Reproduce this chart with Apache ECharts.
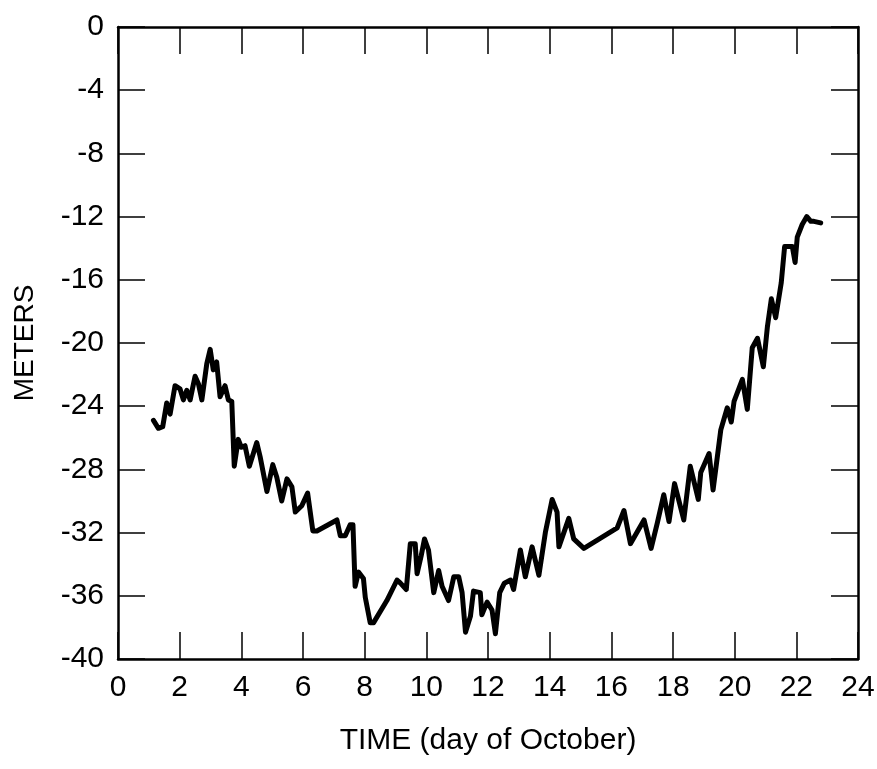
<!DOCTYPE html>
<html><head><meta charset="utf-8">
<script src="https://cdn.jsdelivr.net/npm/echarts@6/dist/echarts.min.js"></script>
<style>html,body{margin:0;padding:0;background:#fff}#c{width:877px;height:769px}</style>
</head><body><div id="c"></div>
<script>
const days = [1.15,1.31,1.45,1.58,1.69,1.85,2.01,2.12,2.23,2.34,2.5,2.61,2.72,2.88,2.99,3.09,3.2,3.31,3.47,3.58,3.69,3.77,3.9,4.0,4.12,4.26,4.5,4.61,4.83,5.02,5.15,5.31,5.48,5.64,5.75,5.96,6.15,6.32,6.45,7.1,7.21,7.37,7.53,7.62,7.69,7.8,7.96,8.02,8.18,8.29,8.72,9.05,9.16,9.35,9.48,9.64,9.7,9.83,9.94,10.07,10.24,10.4,10.51,10.72,10.89,11.05,11.16,11.27,11.43,11.53,11.75,11.8,11.97,12.13,12.24,12.38,12.53,12.73,12.83,13.05,13.21,13.43,13.65,13.86,14.08,14.24,14.3,14.62,14.78,15.11,16.19,16.41,16.62,17.06,17.29,17.49,17.7,17.87,18.05,18.35,18.56,18.82,18.9,19.17,19.3,19.55,19.76,19.89,19.98,20.25,20.41,20.57,20.74,20.93,21.06,21.19,21.33,21.51,21.62,21.87,21.96,22.03,22.19,22.34,22.47,22.57,22.79];
const meters = [-24.9,-25.4,-25.3,-23.8,-24.5,-22.7,-22.9,-23.6,-23.0,-23.6,-22.1,-22.6,-23.6,-21.3,-20.4,-21.7,-21.2,-23.4,-22.7,-23.6,-23.7,-27.8,-26.1,-26.6,-26.5,-27.8,-26.3,-27.2,-29.4,-27.7,-28.5,-30.0,-28.6,-29.1,-30.7,-30.3,-29.5,-31.9,-31.9,-31.2,-32.2,-32.2,-31.5,-31.5,-35.4,-34.5,-34.9,-36.1,-37.7,-37.7,-36.3,-35.0,-35.2,-35.6,-32.7,-32.7,-34.6,-33.5,-32.4,-33.1,-35.8,-34.4,-35.4,-36.3,-34.8,-34.8,-35.8,-38.3,-37.3,-35.7,-35.8,-37.2,-36.4,-36.9,-38.4,-35.8,-35.2,-35.0,-35.6,-33.1,-34.8,-32.9,-34.7,-32.0,-29.9,-30.7,-32.9,-31.1,-32.4,-33.0,-31.7,-30.6,-32.7,-31.2,-33.0,-31.4,-29.6,-31.3,-28.9,-31.2,-27.8,-29.9,-28.2,-27.0,-29.3,-25.5,-24.1,-25.0,-23.7,-22.3,-24.2,-20.3,-19.7,-21.5,-19.0,-17.2,-18.4,-16.2,-13.9,-13.9,-14.9,-13.3,-12.5,-12.0,-12.3,-12.3,-12.4];
const xTitle = 'TIME (day of October)';
const yTitle = 'METERS';

const chart = echarts.init(document.getElementById('c'), null, {renderer:'canvas'});
const font = 'Liberation Sans, Arial, sans-serif';
const lineStyle = {color:'#000', width:2.5};
const tickStyle = {color:'#000', width:1.5};
chart.setOption({
  animation:false,
  backgroundColor:'#fff',
  grid:{left:118, right:19, top:27, bottom:110, containLabel:false, outerBoundsMode:'none'},
  xAxis:[{
    type:'value', min:0, max:24, interval:2, position:'bottom',
    name:xTitle, nameLocation:'middle', nameGap:67,
    nameTextStyle:{fontFamily:font, fontSize:30, color:'#000'},
    axisLine:{show:true, onZero:false, lineStyle:lineStyle},
    axisTick:{show:true, inside:true, length:27, lineStyle:tickStyle},
    axisLabel:{fontFamily:font, fontSize:30, color:'#000', margin:14},
    splitLine:{show:false}
  },{
    type:'value', min:0, max:24, interval:2, position:'top',
    axisLine:{show:true, onZero:false, lineStyle:lineStyle},
    axisTick:{show:true, inside:true, length:27, lineStyle:tickStyle},
    axisLabel:{show:false}, splitLine:{show:false}
  }],
  yAxis:[{
    type:'value', min:-40, max:0, interval:4, position:'left',
    name:yTitle, nameLocation:'middle', nameGap:79, nameRotate:90,
    nameTextStyle:{fontFamily:font, fontSize:28, color:'#000'},
    axisLine:{show:true, onZero:false, lineStyle:lineStyle},
    axisTick:{show:true, inside:true, length:27, lineStyle:tickStyle},
    axisLabel:{fontFamily:font, fontSize:30, color:'#000', margin:14},
    splitLine:{show:false}
  },{
    type:'value', min:-40, max:0, interval:4, position:'right',
    axisLine:{show:true, onZero:false, lineStyle:lineStyle},
    axisTick:{show:true, inside:true, length:27, lineStyle:tickStyle},
    axisLabel:{show:false}, splitLine:{show:false}
  }],
  series:[{
    type:'line', xAxisIndex:0, yAxisIndex:0,
    data: days.map((d,i)=>[d, meters[i]]),
    showSymbol:false, smooth:false,
    lineStyle:{color:'#000', width:5, join:'round', cap:'round'}
  }]
});
</script></body></html>
